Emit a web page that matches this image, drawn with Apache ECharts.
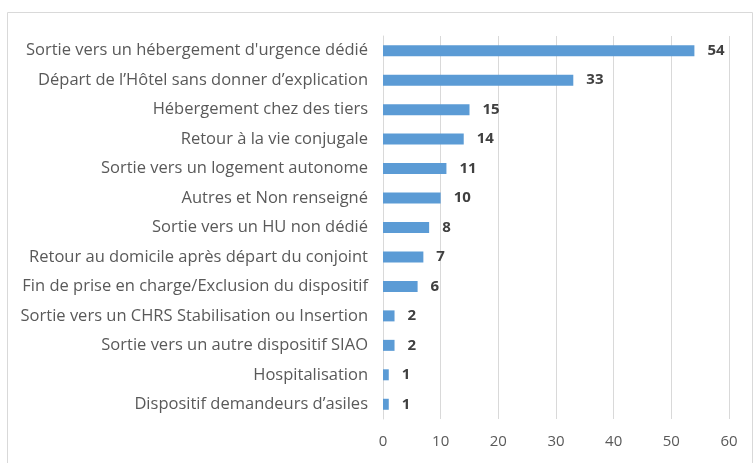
<!DOCTYPE html>
<html>
<head>
<meta charset="utf-8">
<script src="https://cdn.jsdelivr.net/npm/echarts@6/dist/echarts.min.js"></script>
<style>
  html, body { margin: 0; padding: 0; background: #fff; }
  #chart { width: 755px; height: 463px; }
</style>
</head>
<body>
<div id="chart"></div>
<script>
const categories = [
  "Sortie vers un hébergement d'urgence dédié",
  'Départ de l’Hôtel sans donner d’explication',
  'Hébergement chez des tiers',
  'Retour à la vie conjugale',
  'Sortie vers un logement autonome',
  'Autres et Non renseigné',
  'Sortie vers un HU non dédié',
  'Retour au domicile après départ du conjoint',
  'Fin de prise en charge/Exclusion du dispositif',
  'Sortie vers un CHRS Stabilisation ou Insertion',
  'Sortie vers un autre dispositif SIAO',
  'Hospitalisation',
  'Dispositif demandeurs d’asiles'
]
const values = [54, 33, 15, 14, 11, 10, 8, 7, 6, 2, 2, 1, 1]
const xTicks = [0, 10, 20, 30, 40, 50, 60]

const chart = echarts.init(document.getElementById('chart'))

const option = {
  animation: false,
  textStyle: { fontFamily: 'Open Sans' },
  graphic: [
    {
      type: 'rect',
      shape: { x: 7.5, y: 12.5, width: 745, height: 460 },
      style: { fill: 'none', stroke: '#d9d9d9', lineWidth: 1 }
    }
  ],
  grid: { left: 383, right: 26, top: 36, bottom: 44 },
  xAxis: {
    type: 'value',
    min: xTicks[0],
    max: xTicks[xTicks.length - 1],
    interval: 10,
    axisLine: { show: false },
    axisTick: { show: false },
    axisLabel: { color: '#595959', fontSize: 15, margin: 15 },
    splitLine: { lineStyle: { color: '#d9d9d9', width: 1 } }
  },
  yAxis: {
    type: 'category',
    inverse: true,
    data: categories,
    axisLine: { lineStyle: { color: '#d9d9d9' } },
    axisTick: { show: false },
    axisLabel: { color: '#595959', fontSize: 16.5, margin: 15 }
  },
  series: [
    {
      type: 'bar',
      data: values,
      barWidth: 11,
      itemStyle: { color: '#5b9bd5' },
      label: {
        show: true,
        position: 'right',
        distance: 13,
        color: '#404040',
        fontWeight: 'bold',
        fontSize: 15
      }
    }
  ]
}

chart.setOption(option)
</script>
</body>
</html>
